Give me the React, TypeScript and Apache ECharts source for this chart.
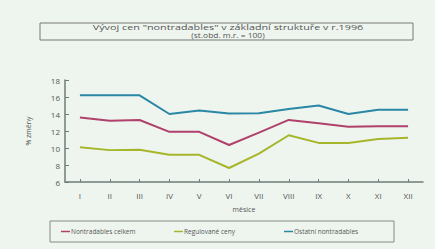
import React, { useEffect, useRef } from "react";
import * as echarts from "echarts";

const categories = ["I", "II", "III", "IV", "V", "VI", "VII", "VIII", "IX", "X", "XI", "XII"];
const nontradablesCelkem = [13.6, 13.2, 13.3, 11.9, 11.9, 10.35, 11.8, 13.3, 12.9, 12.5, 12.55, 12.55];
const regulovaneCeny = [10.1, 9.75, 9.8, 9.2, 9.2, 7.65, 9.35, 11.5, 10.6, 10.6, 11.05, 11.2];
const ostatniNontradables = [16.2, 16.2, 16.2, 14.0, 14.4, 14.05, 14.1, 14.6, 15.0, 14.0, 14.5, 14.5];
const seriesNames = ["Nontradables celkem", "Regulované ceny", "Ostatní nontradables"];
const colors = ["#b0406c", "#a6b62a", "#2a87a6"];

const FONT = "'Open Sans', 'Noto Sans', sans-serif";

export default function App() {
  const ref = useRef<HTMLDivElement>(null);
  useEffect(() => {
    if (!ref.current) return;
    const chart = echarts.init(ref.current, null, { renderer: "svg" });
    const data = [nontradablesCelkem, regulovaneCeny, ostatniNontradables];
    const legendLefts = [61, 174, 284];
    chart.setOption({
      animation: false,
      backgroundColor: "#eef5ef",
      textStyle: { fontFamily: FONT },
      grid: { left: 65, right: 12, top: 80, bottom: 67 },
      legend: seriesNames.map((n, i) => ({
        data: [n],
        left: legendLefts[i],
        top: 228,
        icon: "rect",
        itemWidth: 9,
        itemHeight: 1.5,
        itemGap: 2,
        padding: 0,
        textStyle: { fontSize: 6.5, color: "#555", fontFamily: FONT, padding: [0, 0, 0, -4] },
      })),
      xAxis: {
        type: "category",
        data: categories,
        boundaryGap: true,
        name: "měsíce",
        nameLocation: "middle",
        nameGap: 24,
        nameTextStyle: { fontSize: 7, color: "#555" },
        axisLine: { lineStyle: { color: "#6f7c7a", width: 1.5 } },
        axisTick: { show: true, alignWithLabel: true, inside: true, length: 3, lineStyle: { color: "#6f7c7a" } },
        axisLabel: { fontSize: 8, color: "#555", margin: 9 },
        splitLine: { show: false },
      },
      yAxis: {
        type: "value",
        min: 6,
        max: 18,
        interval: 2,
        name: "% změny",
        nameLocation: "middle",
        nameGap: 33,
        nameRotate: 90,
        nameTextStyle: { fontSize: 7, color: "#555" },
        axisLine: { show: true, lineStyle: { color: "#6f7c7a", width: 1.5 } },
        axisTick: { show: true, inside: true, length: 4, lineStyle: { color: "#6f7c7a" } },
        axisLabel: { fontSize: 8, color: "#555", margin: 5 },
        splitLine: { show: false },
      },
      series: seriesNames.map((n, i) => ({
        name: n,
        type: "line",
        data: data[i],
        symbol: "none",
        lineStyle: { color: colors[i], width: 2 },
        itemStyle: { color: colors[i] },
      })),
      graphic: [
        {
          type: "rect",
          shape: { x: 40, y: 23, width: 373, height: 17 },
          style: { fill: "transparent", stroke: "#777", lineWidth: 1 },
        },
        {
          type: "text",
          x: 228,
          y: 27.3,
          scaleX: 1.35,
          style: {
            text: "Vývoj cen \"nontradables\" v základní struktuře v r.1996",
            fontSize: 8,
            fill: "#555",
            align: "center",
            verticalAlign: "middle",
            fontFamily: FONT,
          },
        },
        {
          type: "text",
          x: 228,
          y: 35.3,
          scaleX: 1.3,
          style: {
            text: "(st.obd. m.r. = 100)",
            fontSize: 6.5,
            fill: "#555",
            align: "center",
            verticalAlign: "middle",
            fontFamily: FONT,
          },
        },
        {
          type: "rect",
          shape: { x: 50, y: 221, width: 344, height: 21 },
          style: { fill: "transparent", stroke: "#888", lineWidth: 1 },
        },
      ],
    });
    return () => chart.dispose();
  }, []);
  return (
    <div
      ref={ref}
      style={{ position: "absolute", left: 0, top: 0, width: 435, height: 249 }}
    />
  );
}
